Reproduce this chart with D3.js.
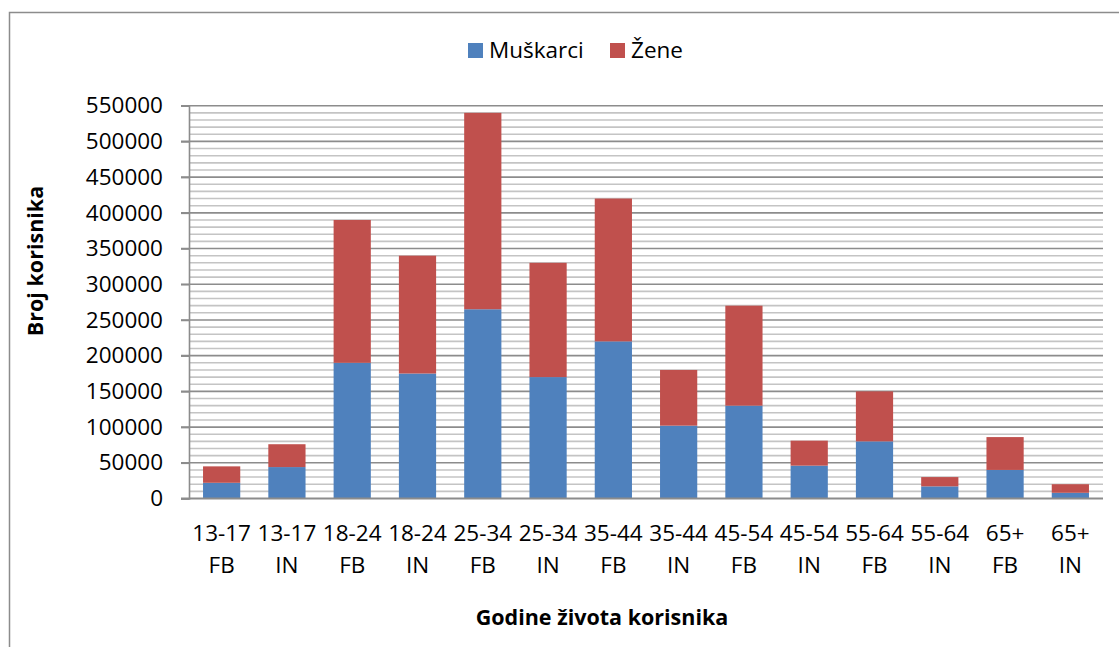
<!DOCTYPE html>
<html>
<head>
<meta charset="utf-8">
<script src="https://cdn.jsdelivr.net/npm/d3@7/dist/d3.min.js"></script>
<style>
  html, body { margin: 0; padding: 0; background: #fff; }
  svg { display: block; font-family: "Open Sans", "DejaVu Sans", sans-serif; }
</style>
</head>
<body>
<svg id="chart" width="1119" height="647"></svg>
<script>
// stacked bars — users by age group, FB vs IN, split by gender

const categories = ['13-17 FB', '13-17 IN', '18-24 FB', '18-24 IN', '25-34 FB', '25-34 IN',
                    '35-44 FB', '35-44 IN', '45-54 FB', '45-54 IN', '55-64 FB', '55-64 IN',
                    '65+ FB', '65+ IN'];
const muskarci = [22000, 44000, 190000, 175000, 265000, 170000, 220000, 102000, 130000, 46000, 80000, 17000, 40000, 8000];
const zene     = [23000, 32000, 200000, 165000, 275000, 160000, 200000, 78000, 140000, 35000, 70000, 13000, 46000, 12000];
const yTicks   = [0, 50000, 100000, 150000, 200000, 250000, 300000, 350000, 400000, 450000, 500000, 550000];

const SERIES = [
    { key: 'muskarci', name: 'Muškarci', color: '#4f81bd' },
    { key: 'zene',     name: 'Žene',     color: '#c0504d' },
];

const W = 1119, H = 647;
const plot = { left: 189, right: 1103, top: 105.7, bottom: 498.5 };

const svg = d3.select('#chart');

// outer frame (runs off the right/bottom edge like the source)
svg.append('rect')
    .attr('x', 9.5).attr('y', 12.5)
    .attr('width', W + 20).attr('height', H + 20)
    .attr('fill', 'none').attr('stroke', '#8c8c8c').attr('stroke-width', 1.5);

const rows = categories.map((c, i) => ({ cat: c, muskarci: muskarci[i], zene: zene[i] }));

const x = d3.scaleBand().domain(categories)
    .range([plot.left, plot.right]).paddingInner(0.43).paddingOuter(0.215);
const y = d3.scaleLinear().domain([0, 550000]).range([plot.bottom, plot.top]);

// ── gridlines: minor every 10000, major every 50000 ───────────────────────
const minor = d3.range(10000, 550001, 10000).filter(v => v % 50000 !== 0);
svg.append('g').selectAll('line').data(minor).join('line')
    .attr('x1', plot.left).attr('x2', plot.right)
    .attr('y1', d => y(d)).attr('y2', d => y(d))
    .attr('stroke', '#c4c4c4').attr('stroke-width', 1.6);

svg.append('g').selectAll('line').data(yTicks.filter(v => v > 0)).join('line')
    .attr('x1', plot.left - 8).attr('x2', plot.right)
    .attr('y1', d => y(d)).attr('y2', d => y(d))
    .attr('stroke', '#8c8c8c').attr('stroke-width', 1.6);

// ── bars ──────────────────────────────────────────────────────────────────
const stacked = d3.stack().keys(SERIES.map(s => s.key))(rows);
svg.append('g').selectAll('g').data(stacked).join('g')
    .attr('fill', (d, i) => SERIES[i].color)
    .selectAll('rect').data(d => d).join('rect')
    .attr('x', d => x(d.data.cat))
    .attr('width', x.bandwidth())
    .attr('y', d => y(d[1]))
    .attr('height', d => y(d[0]) - y(d[1]));

// ── axes ──────────────────────────────────────────────────────────────────
const yAxis = svg.append('g')
    .attr('transform', `translate(${plot.left},0)`)
    .call(d3.axisLeft(y).tickValues(yTicks).tickFormat(d3.format('d')).tickSize(8).tickPadding(18));
yAxis.select('.domain').attr('stroke', '#8c8c8c').attr('stroke-width', 1.6);
yAxis.selectAll('.tick line').attr('stroke', '#8c8c8c').attr('stroke-width', 1.6);
yAxis.selectAll('.tick text')
    .attr('font-size', '22.5px').attr('fill', '#000')
    .attr('font-family', '"Open Sans", sans-serif');

svg.append('line')
    .attr('x1', plot.left - 8).attr('x2', plot.right)
    .attr('y1', plot.bottom).attr('y2', plot.bottom)
    .attr('stroke', '#8c8c8c').attr('stroke-width', 1.8);

// category labels on two lines
const xl = svg.append('g');
categories.forEach(c => {
    const [range, src] = c.split(' ');
    const t = xl.append('text')
        .attr('text-anchor', 'middle')
        .attr('font-size', '22.5px').attr('fill', '#000');
    const cx = x(c) + x.bandwidth() / 2;
    t.append('tspan').attr('x', cx).attr('y', 541).text(range);
    t.append('tspan').attr('x', cx).attr('y', 573).text(src);
});

// ── axis titles ───────────────────────────────────────────────────────────
svg.append('text')
    .attr('x', 602).attr('y', 625)
    .attr('text-anchor', 'middle')
    .attr('font-size', '21.5px').attr('font-weight', 'bold')
    .text('Godine života korisnika');

svg.append('text')
    .attr('transform', 'translate(43,261) rotate(-90)')
    .attr('text-anchor', 'middle')
    .attr('font-size', '21.5px').attr('font-weight', 'bold')
    .text('Broj korisnika');

// ── legend ────────────────────────────────────────────────────────────────
const leg = svg.append('g');
const legX = [468, 610];
SERIES.forEach((s, i) => {
    leg.append('rect')
        .attr('x', legX[i]).attr('y', 43)
        .attr('width', 15).attr('height', 15)
        .attr('fill', s.color);
    leg.append('text')
        .attr('x', legX[i] + 21).attr('y', 58)
        .attr('font-size', '22.5px').attr('fill', '#000')
        .text(s.name);
});
</script>
</body>
</html>
